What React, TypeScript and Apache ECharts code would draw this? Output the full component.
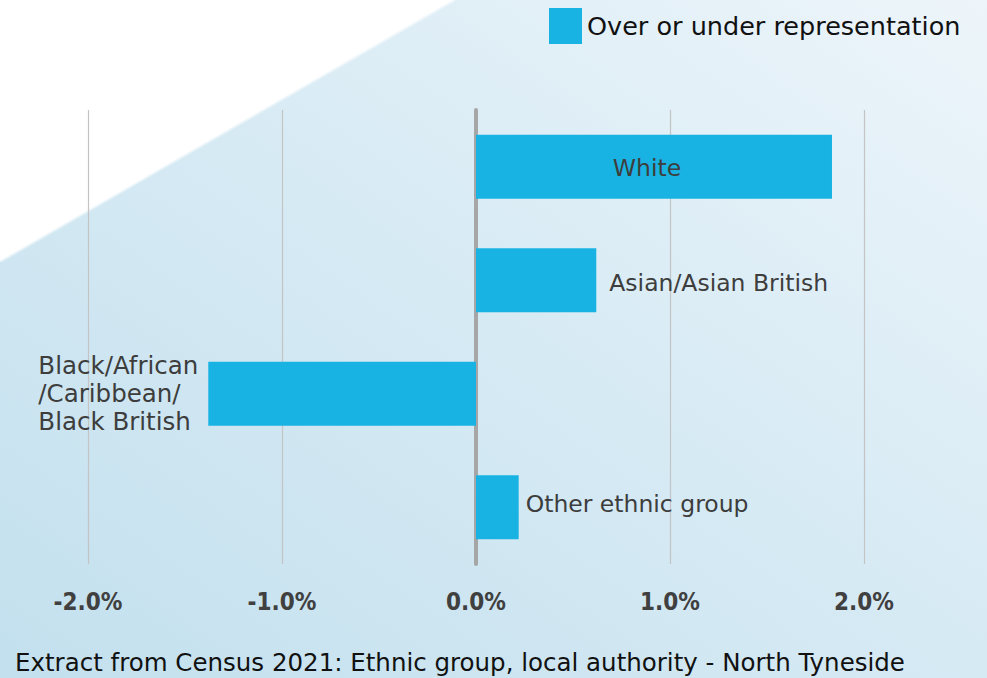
import React, { useEffect, useRef } from "react";
import * as echarts from "echarts";

const categories = ["White", "Asian/Asian British", "Black/African/Caribbean/Black British", "Other ethnic group"];
const values = [1.835, 0.62, -1.38, 0.22];
const tickValues = [-2, -1, 0, 1, 2];
const legendName = "Over or under representation";
const footer = "Extract from Census 2021: Ethnic group, local authority - North Tyneside";

const FONT = "'DejaVu Sans', 'Open Sans', sans-serif";
const BAR = "#19b3e3";
const TXT = "#3d3d3d";

export default function App() {
  const ref = useRef<HTMLDivElement>(null);
  useEffect(() => {
    if (!ref.current) return;
    const chart = echarts.init(ref.current, null, { renderer: "svg" });
    const labelCommon = { show: true, fontFamily: FONT, fontSize: 23.5, color: TXT, formatter: "{b}" };
    const data = values.map((v, i) => {
      if (i === 0) return { value: v, label: { ...labelCommon, position: "inside", offset: [-7, 1] } };
      if (i === 1) return { value: v, label: { ...labelCommon, position: "right", distance: 13, offset: [0, 3] } };
      if (i === 2)
        return {
          value: v,
          label: {
            ...labelCommon,
            position: "left",
            distance: 10,
            formatter: "{a|Black/African}\n{a|/Caribbean/}\n{a|Black British}",
            rich: { a: { align: "left", fontFamily: FONT, fontSize: 24.5, color: TXT, lineHeight: 28 } },
          },
        };
      return { value: v, label: { ...labelCommon, position: "right", distance: 7, offset: [0, -3] } };
    });
    chart.setOption({
      animation: false,
      textStyle: { fontFamily: FONT },
      legend: {
        left: 544,
        top: 3,
        itemWidth: 33,
        itemHeight: 36,
        itemGap: 10,
        icon: "rect",
        textStyle: { fontFamily: FONT, fontSize: 25.5, color: "#111" },
        data: [legendName],
      },
      grid: { left: 88, right: 123, top: 110, bottom: 114, containLabel: false },
      xAxis: {
        type: "value",
        min: tickValues[0],
        max: tickValues[tickValues.length - 1],
        interval: 1,
        axisLine: { show: false },
        axisTick: { show: false },
        splitLine: { show: true, lineStyle: { color: "#c4c4c4", width: 1.2 } },
        axisLabel: {
          margin: 26,
          fontFamily: "'DejaVu Sans Condensed', 'DejaVu Sans', sans-serif",
          fontWeight: "bold",
          fontSize: 24,
          color: "#404040",
          formatter: (v: number) => v.toFixed(1) + "%",
        },
      },
      yAxis: {
        type: "category",
        inverse: true,
        data: categories,
        axisLine: { show: true, onZero: true, lineStyle: { color: "#a6a6a6", width: 4 } },
        axisTick: { show: false },
        axisLabel: { show: false },
        splitLine: { show: false },
      },
      series: [
        {
          name: legendName,
          type: "bar",
          data,
          barWidth: 64,
          itemStyle: { color: BAR },
        },
      ],
      graphic: [
        {
          type: "text",
          left: 15,
          top: 650,
          style: { text: footer, fontFamily: FONT, fontSize: 24.5, fill: "#111" },
        },
      ],
    });
    return () => chart.dispose();
  }, []);
  return (
    <div
      ref={ref}
      style={{
        position: "fixed",
        left: 0,
        top: 0,
        width: 987,
        height: 678,
        background:
          "linear-gradient(to bottom right, #ffffff 49.6%, rgba(255,255,255,0) 50.4%) 0 0 / 455px 262px no-repeat, linear-gradient(to top right, #c3e0ee 0%, #d6eaf4 50%, #edf5fa 100%)",
      }}
    />
  );
}
